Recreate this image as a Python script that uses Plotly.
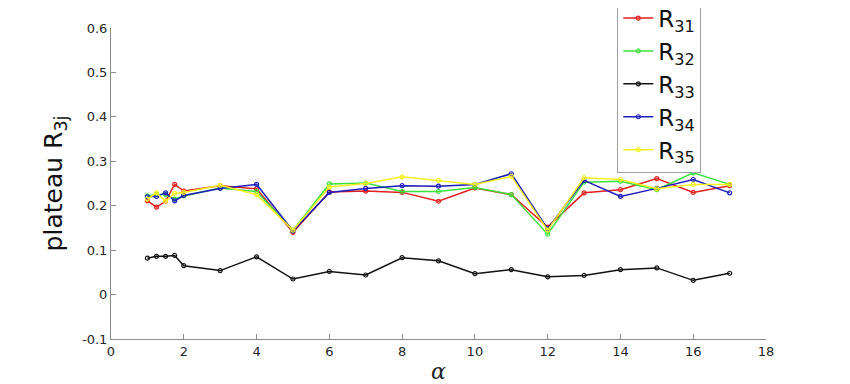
import plotly.graph_objects as go

alpha = [1, 1.25, 1.5, 1.75, 2, 3, 4, 5, 6, 7, 8, 9, 10, 11, 12, 13, 14, 15, 16, 17]
R31 = [0.211, 0.197, 0.210, 0.248, 0.233, 0.245, 0.238, 0.140, 0.231, 0.233, 0.230, 0.210, 0.240, 0.225, 0.152, 0.229, 0.236, 0.261, 0.230, 0.245]
R32 = [0.222, 0.225, 0.225, 0.215, 0.222, 0.240, 0.232, 0.145, 0.249, 0.251, 0.232, 0.232, 0.241, 0.225, 0.136, 0.253, 0.255, 0.236, 0.274, 0.248]
R33 = [0.082, 0.086, 0.086, 0.088, 0.065, 0.054, 0.085, 0.035, 0.052, 0.044, 0.083, 0.076, 0.047, 0.056, 0.040, 0.043, 0.056, 0.060, 0.032, 0.048]
R34 = [0.220, 0.221, 0.229, 0.211, 0.223, 0.239, 0.248, 0.143, 0.230, 0.239, 0.245, 0.244, 0.248, 0.272, 0.148, 0.257, 0.221, 0.239, 0.259, 0.229]
R35 = [0.215, 0.229, 0.210, 0.228, 0.230, 0.246, 0.225, 0.145, 0.242, 0.250, 0.265, 0.257, 0.248, 0.266, 0.145, 0.263, 0.259, 0.238, 0.248, 0.248]

series = [("R<sub>31</sub>", R31, "#e0201e"),
          ("R<sub>32</sub>", R32, "#3ce03c"),
          ("R<sub>33</sub>", R33, "#111111"),
          ("R<sub>34</sub>", R34, "#1c1cb8"),
          ("R<sub>35</sub>", R35, "#f4f020")]

x_ticks = [0, 2, 4, 6, 8, 10, 12, 14, 16, 18]
y_ticks = [-0.1, 0, 0.1, 0.2, 0.3, 0.4, 0.5, 0.6]

fig = go.Figure()
for name, vals, col in series:
    fig.add_trace(go.Scatter(
        x=alpha, y=vals, name=name, mode="lines+markers",
        line=dict(color=col, width=1.5),
        marker=dict(symbol="circle-open", size=4, color=col, line=dict(width=1.2)),
    ))

axis_font = dict(family="DejaVu Sans", size=13, color="#262626")
fig.update_layout(
    width=850, height=384,
    margin=dict(l=103, r=92, t=20, b=53, autoexpand=False),
    paper_bgcolor="white", plot_bgcolor="white",
    font=axis_font,
    showlegend=True,
    legend=dict(
        x=0.773, xanchor="left", y=0.535, yanchor="bottom",
        bgcolor="white", bordercolor="#a0a0a0", borderwidth=1,
        font=dict(family="DejaVu Sans", size=23, color="#111111"),
        itemwidth=30, tracegroupgap=0,
    ),
    xaxis=dict(
        range=[0, 18], tickvals=x_ticks, ticktext=[str(v) for v in x_ticks],
        showgrid=False, zeroline=False, showline=True, linecolor="#8c8c8c", linewidth=1,
        ticks="inside", ticklen=5, tickcolor="#8c8c8c",
        tickfont=axis_font,
        title=dict(text="<i>α</i>", font=dict(family="DejaVu Serif", size=22, color="#262626"), standoff=6),
    ),
    yaxis=dict(
        range=[-0.1, 0.6], tickvals=y_ticks, ticktext=["-0.1", "0", "0.1", "0.2", "0.3", "0.4", "0.5", "0.6"],
        showgrid=False, zeroline=False, showline=True, linecolor="#8c8c8c", linewidth=1,
        ticks="inside", ticklen=5, tickcolor="#8c8c8c",
        tickfont=axis_font,
        title=dict(text="plateau R<sub>3j</sub>", font=dict(family="DejaVu Sans", size=25, color="#111111"), standoff=12),
    ),
)

fig.write_html("out.html")
